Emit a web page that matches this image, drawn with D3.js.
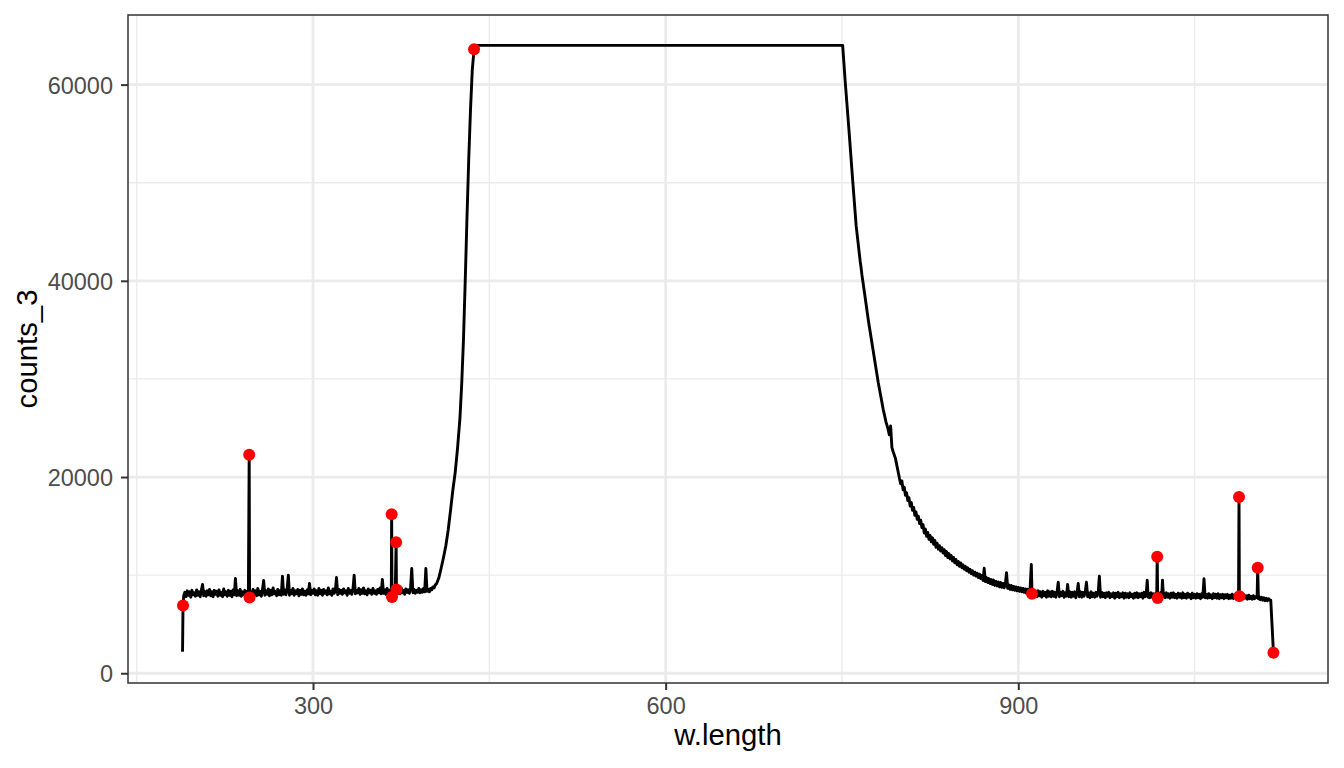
<!doctype html>
<html>
<head>
<meta charset="UTF-8">
<title>counts_3</title>
<script src="https://cdn.jsdelivr.net/npm/d3@7"></script>
<style>
  body { margin: 0; background: #ffffff; }
  text { font-family: "Liberation Sans", Arial, sans-serif; }
</style>
</head>
<body>
<div id="chart"></div>
<script>
// spectrum, as [w.length, counts_3] pairs, in four stretches

// blue side baseline, 189 - 405 nm
var baseLeft = [
  [189.0, 2200], [189.4, 6900], [190, 7900], [191, 8250], [192, 7800], [193, 8400], [194, 7950], [195, 8300],
  [196, 7750], [197, 8450], [198, 8000], [199, 8200], [200, 7850], [201, 8500], [202, 7950], [203, 8300],
  [204, 7800], [205, 8450], [206, 9050], [207, 7900], [208, 8350], [209, 7850], [210, 8400], [211, 8000],
  [212, 8550], [213, 7900], [214, 8300], [215, 7800], [216, 8450], [217, 8050], [218, 8350], [219, 7850],
  [220, 8500], [221, 7950], [222, 8250], [223, 7800], [224, 8600], [225, 8000], [226, 8300], [227, 7850],
  [228, 8450], [229, 7950], [230, 8350], [231, 7800], [232, 8500], [233, 8000], [234, 9660], [235, 7900],
  [236, 8400], [237, 7950], [238, 8550], [239, 7850], [240, 8300], [241, 8000], [242, 8450], [243, 7850],
  [244, 8350], [245, 7950], [245.7, 22270], [246.0, 7730], [247, 8300], [248, 7900], [249, 8550], [250, 8050],
  [251, 8400], [252, 7900], [253, 8650], [254, 8000], [255, 8350], [256, 7850], [257, 8500], [258, 9460],
  [259, 7950], [260, 8400], [261, 8050], [262, 8600], [263, 7900], [264, 8450], [265, 8000], [266, 8700],
  [267, 8100], [268, 8350], [269, 7900], [270, 8550], [271, 8000], [272, 8400], [273, 7950], [274, 9900],
  [275, 8050], [276, 8500], [277, 8000], [278, 8600], [279, 10000], [280, 7950], [281, 8450], [282, 8100],
  [283, 8650], [284, 7950], [285, 8400], [286, 8100], [287, 8550], [288, 7900], [289, 8450], [290, 8050],
  [291, 8600], [292, 8000], [293, 8350], [294, 7950], [295, 8500], [296, 8100], [297, 9150], [298, 8000],
  [299, 8450], [300, 8150], [301, 8600], [302, 8000], [303, 8400], [304, 7950], [305, 8650], [306, 8100],
  [307, 8450], [308, 7950], [309, 8550], [310, 8150], [311, 8400], [312, 8000], [313, 8700], [314, 8100],
  [315, 8350], [316, 7950], [317, 8600], [318, 8150], [319, 8400], [320, 9760], [321, 8000], [322, 8550],
  [323, 8150], [324, 8450], [325, 8050], [326, 8600], [327, 8200], [328, 8400], [329, 7950], [330, 8650],
  [331, 8150], [332, 8450], [333, 8050], [334, 8600], [335, 10000], [336, 8100], [337, 8450], [338, 8200],
  [339, 8650], [340, 8050], [341, 8500], [342, 8150], [343, 8700], [344, 8100], [345, 8400], [346, 8000],
  [347, 8600], [348, 8200], [349, 8450], [350, 8050], [351, 8650], [352, 8150], [353, 8400], [354, 8050],
  [355, 8550], [356, 8200], [357, 8700], [358, 8100], [359, 9560], [360, 8150], [361, 8500], [362, 8050],
  [363, 8650], [364, 8200], [365, 8450], [366, 8100], [366.6, 8400], [366.9, 16200], [367.2, 7760], [368, 8350],
  [369, 8150], [370, 8450], [370.7, 13350], [371.0, 8540], [372, 8250], [373, 8600], [374, 8100], [375, 8700],
  [376, 8200], [377, 8450], [378, 8050], [379, 8600], [380, 8250], [381, 8500], [382, 8150], [383, 8700],
  [384, 10680], [385, 8200], [386, 8550], [387, 8150], [388, 8450], [389, 8250], [390, 8650], [391, 8200],
  [392, 8500], [393, 8250], [394, 8650], [395, 8300], [396, 10680], [397, 8350], [398, 8550], [399, 8300],
  [400, 8650], [401, 8500], [402, 8800], [403, 8700], [404, 9000], [405, 9100]
];

// rising edge and saturated plateau, 407 - 750 nm
var riseAndTop = [
  [407, 9700], [409, 10700], [411, 11800], [413, 13000], [415, 14600], [417, 16600], [419, 18700], [421, 20500],
  [423, 23000], [425, 26000], [426.5, 29500], [428, 34000], [429.5, 40000], [431, 46500], [432.5, 52500],
  [434, 57500], [435.5, 61500], [437.0, 63600], [437.8, 64000], [750.6, 64000]
];

// falling edge, 752 - 869 nm
var fallEdge = [
  [752.7, 60400], [756, 55300], [758.9, 50600], [762.1, 45600], [765.5, 42000], [766.3, 41300], [767, 40600],
  [769.5, 38500], [772.6, 35850], [776.8, 32700], [780.9, 29600], [785.1, 26900], [787.5, 25600], [789.2, 24900],
  [790.3, 24300], [791.4, 25200], [792.5, 23000], [793.5, 22600], [795.5, 21900], [798.9, 19870], [800, 19300],
  [801, 19600], [802, 18700], [803, 18950], [804, 18150], [805, 18400], [806, 17600], [807, 17900], [808, 17050],
  [809, 17400], [810, 16600], [811, 16900], [812, 16100], [813, 16450], [814, 15700], [815, 16000], [816, 15250],
  [817, 15600], [818, 14850], [819, 15150], [820, 14300], [821, 14700], [822, 13950], [823, 14350], [824, 13650],
  [825, 14050], [826, 13400], [827, 13800], [828, 13150], [829, 13550], [830, 12850], [831, 13250], [832, 12650],
  [833, 13000], [834, 12450], [835, 12800], [836, 12250], [837, 12600], [838, 12000], [839, 12400], [840, 11800],
  [841, 12200], [842, 11650], [843, 12000], [844, 11450], [845, 11800], [846, 11250], [847, 11600], [848, 11050],
  [849, 11400], [850, 10900], [851, 11250], [852, 10750], [853, 11050], [854, 10600], [855, 10900], [856, 10450],
  [857, 10750], [858, 10300], [859, 10600], [860, 10150], [861, 10450], [862, 10000], [863, 10300], [864, 9900],
  [865, 10200], [866, 9750], [867, 10100], [868, 9650], [869, 9950]
];

// red side baseline, 870 - 1117 nm
var baseRight = [
  [870, 9450], [871, 10700], [872, 9350], [873, 9750], [874, 9250], [875, 9650], [876, 9150], [877, 9550],
  [878, 9050], [879, 9500], [880, 8950], [881, 9350], [882, 8900], [883, 9300], [884, 8800], [885, 9250],
  [886, 8750], [887, 9150], [888, 8700], [889, 9100], [890, 10250], [891, 8650], [892, 9000], [893, 8550],
  [894, 8950], [895, 8500], [896, 8850], [897, 8450], [898, 8800], [899, 8400], [900, 8750], [901, 8350],
  [902, 8700], [903, 8300], [904, 8650], [905, 8250], [906, 8600], [907, 8150], [908, 8550], [909, 8200],
  [910, 8500], [911.1, 11080], [911.7, 8100], [913, 8450], [914, 7850], [915, 8350], [916, 7800], [917, 8400],
  [918, 7900], [919, 8300], [920, 7750], [921, 8350], [922, 7900], [923, 8250], [924, 7750], [925, 8400],
  [926, 7850], [927, 8300], [928, 7800], [929, 8350], [930, 7850], [931, 8250], [932, 7750], [933, 8300],
  [934, 9290], [935, 7800], [936, 8250], [937, 7900], [938, 8350], [939, 7750], [940, 8200], [941, 7850],
  [942, 9050], [943, 7800], [944, 8300], [945, 7750], [946, 8250], [947, 7850], [948, 8300], [949, 7700],
  [950, 8200], [951, 9150], [952, 7800], [953, 8300], [954, 7750], [955, 8250], [956, 7850], [957, 8300],
  [958, 9290], [959, 7800], [960, 8200], [961, 7700], [962, 8300], [963, 7800], [964, 8150], [965, 7750],
  [966, 8250], [967, 7850], [968, 8200], [969, 9900], [970, 7750], [971, 8250], [972, 7800], [973, 8150],
  [974, 7700], [975, 8200], [976, 7850], [977, 8250], [978, 7700], [979, 8100], [980, 7800], [981, 8200],
  [982, 7650], [983, 8150], [984, 7800], [985, 8250], [986, 7700], [987, 8100], [988, 7800], [989, 8200],
  [990, 7650], [991, 8150], [992, 7750], [993, 8100], [994, 7700], [995, 8200], [996, 7800], [997, 8050],
  [998, 7650], [999, 8150], [1000, 7750], [1001, 8200], [1002, 7700], [1003, 8100], [1004, 7800], [1005, 8150],
  [1006, 7650], [1007, 8250], [1008, 7800], [1009, 8300], [1009.7, 9490], [1010.5, 7750], [1011, 8150],
  [1012, 7700], [1013, 8200], [1014, 7750], [1015, 8100], [1016, 7650], [1017, 8150], [1017.8, 7900],
  [1018.2, 11870], [1018.6, 7660], [1019.5, 8150], [1020, 7800], [1021, 8200], [1022, 7750], [1022.7, 9490],
  [1023.5, 7800], [1024, 8150], [1025, 7700], [1026, 8200], [1027, 7750], [1028, 8100], [1029, 7650],
  [1030, 8150], [1031, 7750], [1032, 8200], [1033, 7700], [1034, 8050], [1035, 7650], [1036, 8150], [1037, 7750],
  [1038, 8100], [1039, 7650], [1040, 8200], [1041, 7700], [1042, 8050], [1043, 7650], [1044, 8150], [1045, 7750],
  [1046, 8050], [1047, 7600], [1048, 8150], [1049, 7700], [1050, 8050], [1051, 7650], [1052, 8100], [1053, 7700],
  [1054, 8050], [1055, 7600], [1056, 8100], [1057, 7750], [1058, 9630], [1059, 7700], [1060, 8050], [1061, 7650],
  [1062, 8100], [1063, 7700], [1064, 8000], [1065, 7600], [1066, 8100], [1067, 7700], [1068, 8050], [1069, 7650],
  [1070, 8100], [1071, 7600], [1072, 8000], [1073, 7700], [1074, 8050], [1075, 7600], [1076, 8000], [1077, 7700],
  [1078, 8050], [1079, 7600], [1080, 7950], [1081, 7650], [1082, 8050], [1083, 7600], [1084, 7950], [1085, 7700],
  [1086, 8000], [1087.4, 7800], [1087.8, 17970], [1088.1, 7860], [1089, 7650], [1090, 7950], [1091, 7600],
  [1092, 8000], [1093, 7650], [1094, 7900], [1095, 7550], [1096, 7950], [1097, 7600], [1098, 7850], [1099, 7550],
  [1100, 7900], [1101, 7600], [1102, 7800], [1103.2, 7700], [1103.7, 10750], [1104.3, 7600], [1105, 7800],
  [1106, 7500], [1107, 7750], [1108, 7450], [1109, 7700], [1110, 7400], [1111, 7650], [1112, 7400], [1113, 7600],
  [1114, 7450], [1114.8, 7450], [1117.1, 2100]
];

// points marked in red
var peakWavelengths = [189.4, 245.7, 246.0, 366.9, 367.2, 370.7, 371.0, 437.0, 911.7, 1018.2, 1018.6, 1087.8, 1088.1, 1103.7, 1117.1];
var peakCounts = [6900, 22270, 7730, 16200, 7760, 13350, 8540, 63600, 8100, 11870, 7660, 17970, 7860, 10750, 2100];

// axis breaks
var xBreaks = [300, 600, 900];
var xMinorBreaks = [150, 450, 750, 1050];
var yBreaks = [0, 20000, 40000, 60000];
var yMinorBreaks = [10000, 30000, 50000];

var data = baseLeft.concat(riseAndTop, fallEdge, baseRight).map(d => ({w: d[0], c: d[1]}));
var peaks = peakWavelengths.map((w, i) => ({w: w, c: peakCounts[i]}));

// set the dimensions and margins of the graph
var margin = {top: 15, right: 16, bottom: 85, left: 128},
    width_total = 1344,
    height_total = 768,
    width = width_total - margin.left - margin.right,
    height = height_total - margin.top - margin.bottom;

var svg = d3.select("#chart")
  .append("svg")
    .attr("width", width_total)
    .attr("height", height_total)
  .append("g")
    .attr("transform", "translate(" + margin.left + "," + margin.top + ")");

// ggplot style 5% expansion
var xExt = d3.extent(data, d => d.w), xPad = (xExt[1] - xExt[0]) * 0.05;
var yExt = d3.extent(data, d => d.c), yPad = (yExt[1] - yExt[0]) * 0.05;

var x = d3.scaleLinear()
  .domain([xExt[0] - xPad, xExt[1] + xPad])
  .range([0, width]);
var y = d3.scaleLinear()
  .domain([yExt[0] - yPad, yExt[1] + yPad])
  .range([height, 0]);

// grid
var grid = svg.append("g");
grid.selectAll(".xminor").data(xMinorBreaks).enter().append("line")
  .attr("x1", d => x(d)).attr("x2", d => x(d))
  .attr("y1", 0).attr("y2", height)
  .attr("stroke", "#ebebeb").attr("stroke-width", 1.4);
grid.selectAll(".yminor").data(yMinorBreaks).enter().append("line")
  .attr("x1", 0).attr("x2", width)
  .attr("y1", d => y(d)).attr("y2", d => y(d))
  .attr("stroke", "#ebebeb").attr("stroke-width", 1.4);
grid.selectAll(".xmajor").data(xBreaks).enter().append("line")
  .attr("x1", d => x(d)).attr("x2", d => x(d))
  .attr("y1", 0).attr("y2", height)
  .attr("stroke", "#ebebeb").attr("stroke-width", 2.8);
grid.selectAll(".ymajor").data(yBreaks).enter().append("line")
  .attr("x1", 0).attr("x2", width)
  .attr("y1", d => y(d)).attr("y2", d => y(d))
  .attr("stroke", "#ebebeb").attr("stroke-width", 2.8);

// the spectrum
var line = d3.line()
  .x(d => x(d.w))
  .y(d => y(d.c));
svg.append("path")
  .datum(data)
  .attr("fill", "none")
  .attr("stroke", "#000000")
  .attr("stroke-width", 2.9)
  .attr("stroke-linejoin", "round")
  .attr("d", line);

// red points
svg.append("g")
  .selectAll("circle")
  .data(peaks)
  .enter()
  .append("circle")
    .attr("cx", d => x(d.w))
    .attr("cy", d => y(d.c))
    .attr("r", 6)
    .attr("fill", "#ff0000");

// panel border
svg.append("rect")
  .attr("x", 0).attr("y", 0)
  .attr("width", width).attr("height", height)
  .attr("fill", "none")
  .attr("stroke", "#333333")
  .attr("stroke-width", 1.5);

// axes
var xAxis = svg.append("g")
  .attr("transform", "translate(0," + height + ")")
  .call(d3.axisBottom(x).tickValues(xBreaks).tickFormat(d3.format("d")).tickSize(7).tickPadding(7));
var yAxis = svg.append("g")
  .call(d3.axisLeft(y).tickValues(yBreaks).tickFormat(d3.format("d")).tickSize(7).tickPadding(8));

[xAxis, yAxis].forEach(a => {
  a.select(".domain").remove();
  a.selectAll(".tick line").attr("stroke", "#333333").attr("stroke-width", 2);
  a.selectAll(".tick text")
    .attr("fill", "#4d4d4d")
    .style("font-size", "23.5px")
    .style("font-family", "'Liberation Sans', Arial, sans-serif");
});
yAxis.selectAll(".tick text").attr("dy", "0.36em");

// axis titles
svg.append("text")
  .attr("text-anchor", "middle")
  .attr("x", width / 2)
  .attr("y", 745 - margin.top)
  .style("font-size", "29.3px")
  .attr("fill", "#000000")
  .text("w.length");

svg.append("text")
  .attr("text-anchor", "middle")
  .attr("transform", "translate(" + (37 - margin.left) + "," + (height / 2) + ") rotate(-90)")
  .style("font-size", "29.3px")
  .attr("fill", "#000000")
  .text("counts_3");
</script>
</body>
</html>
